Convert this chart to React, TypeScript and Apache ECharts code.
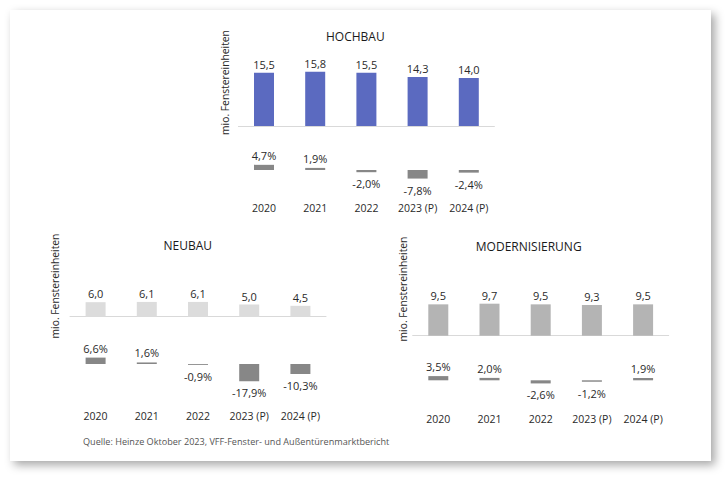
import React, { useEffect, useRef } from "react";
import * as echarts from "echarts";

const years = ["2020", "2021", "2022", "2023 (P)", "2024 (P)"];
const hochbauValues = [15.5, 15.8, 15.5, 14.3, 14.0];
const hochbauChange = [4.7, 1.9, -2.0, -7.8, -2.4];
const neubauValues = [6.0, 6.1, 6.1, 5.0, 4.5];
const neubauChange = [6.6, 1.6, -0.9, -17.9, -10.3];
const modValues = [9.5, 9.7, 9.5, 9.3, 9.5];
const modChange = [3.5, 2.0, -2.6, -1.2, 1.9];

const titles = ["HOCHBAU", "NEUBAU", "MODERNISIERUNG"];
const yName = "mio. Fenstereinheiten";
const source = "Quelle: Heinze Oktober 2023, VFF-Fenster- und Außentürenmarktbericht";

const FONT = "'Open Sans', sans-serif";
const TXT = "#2a2a2a";

const fmt = (v: number) => v.toFixed(1).replace(".", ",");

export default function App() {
  const ref = useRef<HTMLDivElement>(null);
  useEffect(() => {
    if (!ref.current) return;
    const chart = echarts.init(ref.current, undefined, { renderer: "svg" });

    const panels = [
      { values: hochbauValues, change: hochbauChange, color: "#5b6ac0",
        left: 238.4, vTop: 57.4, vH: 68.6, pTop: 148, pH: 44, margin: 10,
        title: [355.3, 36.5], yn: [225, 82.5] },
      { values: neubauValues, change: neubauChange, color: "#dcdcdc",
        left: 70, vTop: 268.3, vH: 48.4, pTop: 344.6, pH: 38.8, margin: 27,
        title: [187.7, 245], yn: [55, 286] },
      { values: modValues, change: modChange, color: "#b4b4b4",
        left: 412.7, vTop: 269.7, vH: 66, pTop: 356.3, pH: 48, margin: 9,
        title: [528.7, 246.7], yn: [403.3, 289] },
    ];

    const grid: any[] = [];
    const xAxis: any[] = [];
    const yAxis: any[] = [];
    const series: any[] = [];
    const graphic: any[] = [
      {
        type: "rect",
        z: -10,
        shape: { x: 10, y: 10, width: 701, height: 451 },
        style: {
          fill: "#ffffff",
          shadowBlur: 10,
          shadowColor: "rgba(0,0,0,0.35)",
          shadowOffsetX: 4,
          shadowOffsetY: 4,
        },
      },
    ];

    panels.forEach((p, i) => {
      const gv = grid.length;
      grid.push({ left: p.left, top: p.vTop, width: 256, height: p.vH });
      grid.push({ left: p.left, top: p.pTop, width: 256, height: p.pH });
      xAxis.push({
        type: "category", gridIndex: gv, data: years,
        axisLine: { show: true, lineStyle: { color: "#d9d9d9", width: 1 } },
        axisTick: { show: false }, axisLabel: { show: false },
      });
      xAxis.push({
        type: "category", gridIndex: gv + 1, data: years,
        axisLine: { show: false, onZero: false }, axisTick: { show: false },
        axisLabel: { show: true, margin: p.margin, fontSize: 10.5, color: TXT, fontFamily: FONT },
      });
      yAxis.push({ type: "value", gridIndex: gv, min: 0, max: 20, show: false });
      yAxis.push({ type: "value", gridIndex: gv + 1, min: -20, max: 20, show: false });
      series.push({
        type: "bar", xAxisIndex: gv, yAxisIndex: gv, barWidth: 20,
        data: p.values, itemStyle: { color: p.color },
        label: {
          show: true, position: "top", distance: 3, fontSize: 11, color: TXT, fontFamily: FONT,
          formatter: (d: any) => fmt(d.value),
        },
      });
      series.push({
        type: "bar", xAxisIndex: gv + 1, yAxisIndex: gv + 1, barWidth: 20,
        itemStyle: { color: "#878787" },
        data: p.change.map((v) => ({
          value: v,
          label: { position: v >= 0 ? "top" : "bottom", distance: v >= 0 ? 4 : 6 },
        })),
        label: {
          show: true, fontSize: 11, color: TXT, fontFamily: FONT,
          formatter: (d: any) => fmt(d.value) + "%",
        },
      });
      graphic.push({
        type: "text", x: p.title[0], y: p.title[1],
        style: { text: titles[i], fontSize: 12, fill: "#1a1a1a", fontFamily: FONT,
          textAlign: "center", textVerticalAlign: "middle" },
      });
      graphic.push({
        type: "text", x: p.yn[0], y: p.yn[1], rotation: Math.PI / 2,
        style: { text: yName, fontSize: 10.3, fill: TXT, fontFamily: FONT,
          textAlign: "center", textVerticalAlign: "middle" },
      });
    });

    graphic.push({
      type: "text", x: 83, y: 441.5,
      style: { text: source, fontSize: 9.1, fill: "#555555", fontFamily: FONT,
        textAlign: "left", textVerticalAlign: "middle" },
    });

    chart.setOption({
      animation: false,
      backgroundColor: "#ffffff",
      grid, xAxis, yAxis, series, graphic,
    });
    return () => chart.dispose();
  }, []);

  return (
    <div
      ref={ref}
      style={{ position: "fixed", left: 0, top: 0, width: 728, height: 479 }}
    />
  );
}
